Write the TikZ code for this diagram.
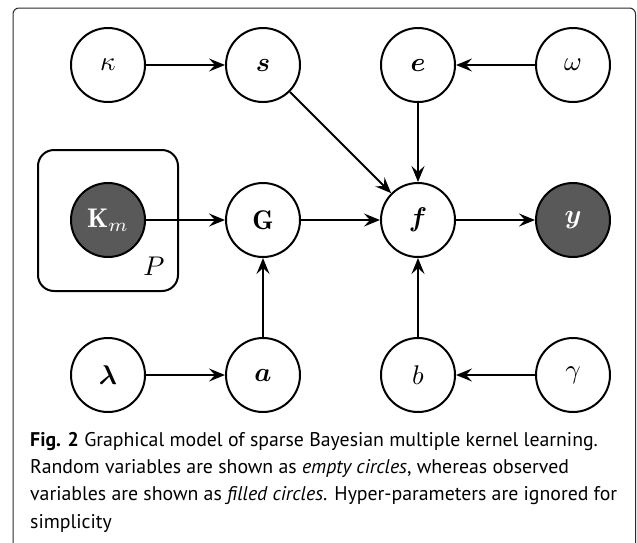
\RequirePackage{fix-cm}
\documentclass[tikz,border=0pt]{standalone}
\usepackage{amsmath,bm}
\usepackage{fontspec}
\newfontfamily\capfont{PT Sans}
\usetikzlibrary{arrows.meta}
\definecolor{obsfill}{HTML}{595959}
\definecolor{framegray}{HTML}{2A2A2A}
\newcommand{\lbl}[1]{\scalebox{2.7}{$#1$}}
\tikzset{
  var/.style={circle, draw=black, line width=2pt, minimum size=74pt, inner sep=0pt, fill=white},
  obs/.style={var, fill=obsfill, text=white},
  edge/.style={line width=2pt, -{Stealth[length=16pt,width=13pt,inset=6pt]}},
  plate/.style={draw=black, line width=2pt, rounded corners=16pt, inner sep=0pt},
  frame/.style={draw=framegray, line width=1pt, rounded corners=6pt},
}
\begin{document}
\begin{tikzpicture}[x=1pt,y=-1pt]
\useasboundingbox (0,0) rectangle (637,542);
\clip (0,0) rectangle (637,542);
\draw[frame] (13,560) -- (13,8) -- (635.5,8) -- (635.5,560);
% plate
\node[plate, minimum width=140pt, minimum height=141pt] (plate) at (108,220.5) {};
\node[inner sep=0pt] (P) at (154,266) {\lbl{P}};
% nodes
\node[var] (kappa) at (108,65) {\lbl{\kappa}};
\node[var] (s) at (263,65) {\lbl{\bm{s}}};
\node[var] (e) at (418,65) {\lbl{\bm{e}}};
\node[var] (omega) at (573,65) {\lbl{\omega}};
\node[obs] (K) at (108,220) {\lbl{\mathbf{K}_m}};
\node[var] (G) at (263,220) {\lbl{\mathbf{G}}};
\node[var] (f) at (418,220) {\lbl{\bm{f}}};
\node[obs] (y) at (573,220) {\lbl{\bm{y}}};
\node[var] (lambda) at (108,375) {\lbl{\bm{\lambda}}};
\node[var] (a) at (263,375) {\lbl{\bm{a}}};
\node[var] (b) at (418,375) {\lbl{b}};
\node[var] (gamma) at (573,375) {\lbl{\gamma}};
% edges
\draw[edge] (kappa) -- (s);
\draw[edge] (omega) -- (e);
\draw[edge] (s) -- (f);
\draw[edge] (e) -- (f);
\draw[edge] (K) -- (G);
\draw[edge] (G) -- (f);
\draw[edge] (f) -- (y);
\draw[edge] (a) -- (G);
\draw[edge] (lambda) -- (a);
\draw[edge] (b) -- (f);
\draw[edge] (gamma) -- (b);
% caption
\node[anchor=base west, align=left, inner sep=0pt, font=\capfont\fontsize{19.8}{27.2}\selectfont] (cap) at (30,528)
{\textbf{Fig. 2} Graphical model of sparse Bayesian multiple kernel learning.\\
Random variables are shown as \textit{empty circles}, whereas observed\\
variables are shown as \textit{filled circles}. Hyper-parameters are ignored for\\
simplicity};
\end{tikzpicture}
\end{document}
